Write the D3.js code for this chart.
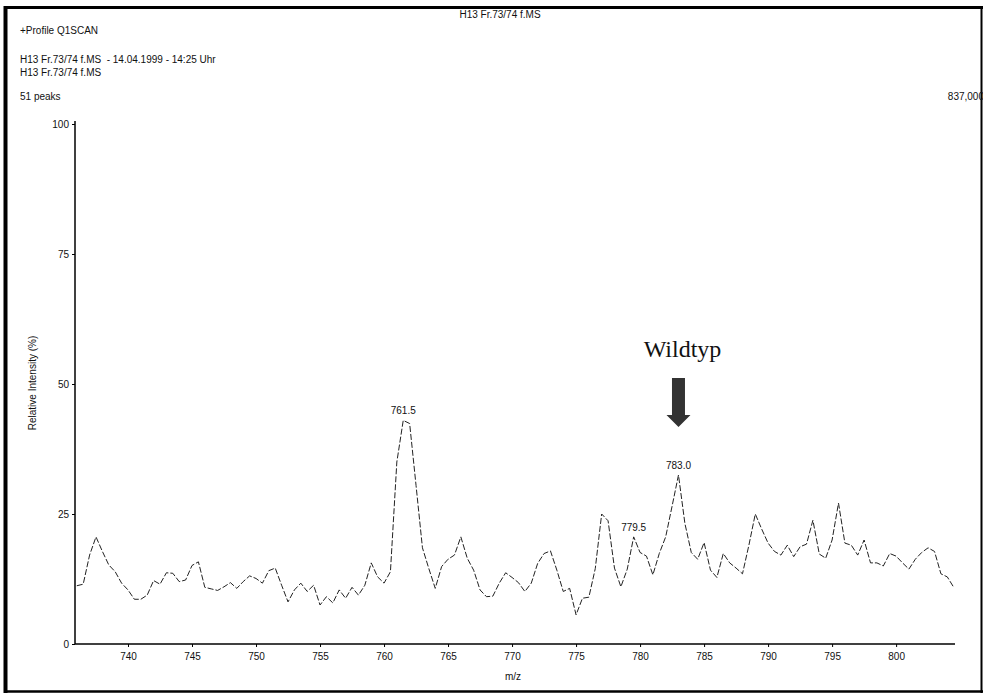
<!DOCTYPE html>
<html><head><meta charset="utf-8">
<script src="https://cdn.jsdelivr.net/npm/d3@7"></script>
<style>
html,body{margin:0;padding:0;background:#fff;}
svg{display:block;}
text{font-family:"Liberation Sans",Arial,sans-serif;fill:#111;white-space:pre;}
text.serif{font-family:"Liberation Serif","Times New Roman",serif;}
</style></head>
<body>
<svg id="c" width="983" height="695"></svg>
<script>
const mz = [736,736.5,737,737.5,738,738.5,739,739.5,740,740.5,741,741.5,742,742.5,743,743.5,744,744.5,745,745.5,
746,746.5,747,747.5,748,748.5,749,749.5,750,750.5,751,751.5,752,752.5,753,753.5,754,754.5,755,755.5,
756,756.5,757,757.5,758,758.5,759,759.5,760,760.5,761,761.5,762,762.5,763,763.5,764,764.5,765,765.5,
766,766.5,767,767.5,768,768.5,769,769.5,770,770.5,771,771.5,772,772.5,773,773.5,774,774.5,775,775.5,
776,776.5,777,777.5,778,778.5,779,779.5,780,780.5,781,781.5,782,782.5,783,783.5,784,784.5,785,785.5,
786,786.5,787,787.5,788,788.5,789,789.5,790,790.5,791,791.5,792,792.5,793,793.5,794,794.5,795,795.5,
796,796.5,797,797.5,798,798.5,799,799.5,800,800.5,801,801.5,802,802.5,803,803.5,804,804.5];
const intensity = [11.2,11.5,17.1,20.6,17.8,15.2,13.9,11.7,10.4,8.6,8.6,9.4,12.2,11.5,13.7,13.6,12.0,12.3,15.1,15.8,
10.9,10.6,10.3,11.0,11.8,10.7,12.0,13.1,12.6,11.7,14.1,14.6,11.3,8.1,10.4,11.7,10.1,11.3,7.5,9.1,
7.9,10.4,8.8,10.9,9.4,11.3,15.6,12.9,11.7,13.9,35.0,43.0,42.4,30.5,18.5,14.5,10.7,14.9,16.3,17.1,
20.6,16.5,14.2,10.4,9.1,9.2,11.7,13.7,12.8,11.8,10.1,11.7,15.5,17.4,17.9,14.2,10.1,10.7,5.6,8.8,
9.0,14.5,25.0,23.7,14.6,11.0,14.4,20.6,17.6,16.9,13.3,17.4,20.6,26.5,32.5,23.2,17.6,16.3,19.5,14.2,
12.8,17.4,15.6,14.6,13.5,19.0,25.0,22.1,19.4,17.8,17.1,19.0,16.8,18.7,19.2,23.8,17.3,16.5,20.0,27.1,
19.4,19.0,17.1,20.0,15.6,15.6,15.0,17.4,16.9,15.6,14.4,16.3,17.6,18.5,17.8,13.5,12.9,10.9];
const xTicks = [740,745,750,755,760,765,770,775,780,785,790,795,800];
const yTicks = [0,25,50,75,100];
const peakLabels = [{mz:761.5, v:43.0, text:"761.5"},{mz:779.5, v:20.6, text:"779.5"},{mz:783.0, v:32.5, text:"783.0"}];
const headerLines = ["+Profile Q1SCAN","H13 Fr.73/74 f.MS  - 14.04.1999 - 14:25 Uhr","H13 Fr.73/74 f.MS","51 peaks"];
const titleText = "H13 Fr.73/74 f.MS";
const scaleText = "837,000";
const annotation = "Wildtyp";

const svg = d3.select("#c");
const x = d3.scaleLinear().domain([735.86, 804.6]).range([75, 955]);
const y = d3.scaleLinear().domain([0, 100]).range([644, 124]);

// frame
svg.append("line").attr("x1",4).attr("x2",983).attr("y1",7.5).attr("y2",7.5).attr("stroke","#000").attr("stroke-width",3);
svg.append("line").attr("x1",5.5).attr("x2",5.5).attr("y1",6).attr("y2",693).attr("stroke","#000").attr("stroke-width",4);
svg.append("line").attr("x1",4).attr("x2",983).attr("y1",691.5).attr("y2",691.5).attr("stroke","#000").attr("stroke-width",2.5);
svg.append("line").attr("x1",981.5).attr("x2",981.5).attr("y1",6).attr("y2",693).attr("stroke","#000").attr("stroke-width",2);

// header texts
svg.append("text").attr("x",500).attr("y",18).attr("text-anchor","middle").attr("font-size",10).text(titleText);
const hy = [34,63,76,100];
headerLines.forEach((t,i)=>svg.append("text").attr("x",20).attr("y",hy[i]).attr("font-size",10).text(t));
svg.append("text").attr("x",984).attr("y",100).attr("text-anchor","end").attr("font-size",10).text(scaleText);

// axes
const gx = svg.append("g").attr("transform","translate(0,644)")
  .call(d3.axisBottom(x).tickValues(xTicks).tickSize(3).tickPadding(6).tickFormat(d3.format("d")));
gx.select(".domain").attr("stroke","#000").attr("stroke-width",1.5).attr("d","M75,0H955");
gx.selectAll("text").attr("font-size",10).attr("fill","#111");
const gy = svg.append("g").attr("transform","translate(75,0)")
  .call(d3.axisLeft(y).tickValues(yTicks).tickSize(3).tickPadding(3));
gy.select(".domain").attr("stroke","#000").attr("stroke-width",1.5).attr("d","M0,644V121");
gy.selectAll("text").attr("font-size",10).attr("fill","#111");
svg.selectAll(".tick text").style("font-family","'Liberation Sans', Arial, sans-serif");

svg.append("text").attr("transform","translate(36,383) rotate(-90)").attr("text-anchor","middle")
  .attr("font-size",10).text("Relative Intensity (%)");
svg.append("text").attr("x",513).attr("y",680).attr("text-anchor","middle").attr("font-size",10).text("m/z");

// spectrum
const data = mz.map((m,i)=>({m, v:intensity[i]}));
svg.append("path").datum(data)
  .attr("d", d3.line().x(d=>x(d.m)).y(d=>y(d.v)))
  .attr("fill","none").attr("stroke","#222").attr("stroke-width",1)
  .attr("stroke-dasharray","6,2");

// peak labels
peakLabels.forEach(p=>{
  svg.append("text").attr("x",x(p.mz)).attr("y",y(p.v)-6).attr("text-anchor","middle").attr("font-size",10).text(p.text);
});

// annotation arrow
const ax = x(783.0);
svg.append("path")
  .attr("d",`M${ax-6.5},378 H${ax+6.5} V415 H${ax+12} L${ax},427 L${ax-12},415 H${ax-6.5} Z`)
  .attr("fill","#333");
svg.append("text").attr("class","serif").attr("x",ax+4).attr("y",357).attr("text-anchor","middle")
  .attr("font-size",24).text(annotation);
</script>
</body></html>
